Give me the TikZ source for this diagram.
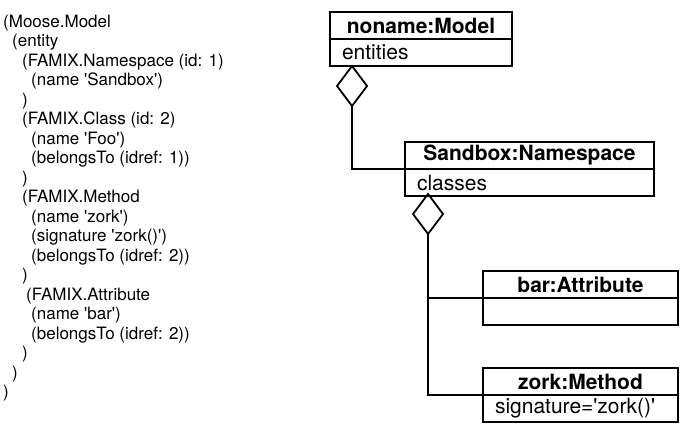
\documentclass[tikz,border=0pt]{standalone}
\usepackage{fontspec}
\setmainfont{TeX Gyre Heros}
\usetikzlibrary{positioning,shapes.geometric}
\newcommand\sq{\textquotesingle}

\tikzset{
  head/.style={draw, line width=1.8pt, outer sep=0pt, inner sep=0pt,
    minimum width=#1, minimum height=27pt,
    font=\fontsize{21}{21}\selectfont\bfseries},
  body/.style={draw, line width=1.8pt, outer sep=0pt, inner xsep=12pt, inner ysep=0pt,
    text width=#1, minimum height=27pt, align=left,
    font=\fontsize{21}{21}\selectfont},
  agg/.style={draw, diamond, line width=1.8pt, outer sep=0pt, inner sep=0pt,
    minimum width=30pt, minimum height=40pt},
  link/.style={line width=1.8pt},
  code/.style={anchor=base west, inner sep=0pt, font=\fontsize{17}{19}\selectfont},
}

\begin{document}
\begin{tikzpicture}[x=1pt, y=-1pt]
  \useasboundingbox (0,0) rectangle (684,424);

  % Textual model
  \foreach \ind/\txt [count=\i from 0] in {
      0/{(Moose.Model},
      9/{(entity},
      19/{(FAMIX.Namespace (id: 1)},
      28/{(name \sq Sandbox\sq)},
      19/{)},
      19/{(FAMIX.Class (id: 2)},
      28/{(name \sq Foo\sq)},
      28/{(belongsTo (idref: 1))},
      19/{)},
      19/{(FAMIX.Method},
      28/{(name \sq zork\sq)},
      28/{(signature \sq zork()\sq)},
      28/{(belongsTo (idref: 2))},
      19/{)},
      23/{(FAMIX.Attribute},
      28/{(name \sq bar\sq)},
      28/{(belongsTo (idref: 2))},
      19/{)},
      9/{)},
      0/{)}}
    \node[code] (line\i) at (3+\ind, 27+19.5*\i) {\txt};

  % Objects
  \node[head=182pt, anchor=north west] (modelhead) at (330,12) {noname:Model};
  \node[body=158pt, below=0pt of modelhead] (modelbody) {entities};

  \node[head=249pt, anchor=north west] (nshead) at (405,142) {Sandbox:Namespace};
  \node[body=225pt, below=0pt of nshead] (nsbody) {classes};

  \node[head=195pt, anchor=north west] (barhead) at (483,271) {bar:Attribute};
  \node[body=171pt, below=0pt of barhead] (barbody) {};

  \node[head=195pt, anchor=north west] (zorkhead) at (483,368) {zork:Method};
  \node[body=171pt, below=0pt of zorkhead] (zorkbody) {signature=\sq zork()\sq};

  % Aggregations
  \node[agg, anchor=north] (agg1) at (352,66) {};
  \draw[link] (agg1.south) |- (nshead.south west);

  \node[agg, anchor=north] (agg2) at (428,194) {};
  \draw[link] (agg2.south) |- (barhead.south west);
  \draw[link] (agg2.south) |- (zorkhead.south west);

\end{tikzpicture}
\end{document}
